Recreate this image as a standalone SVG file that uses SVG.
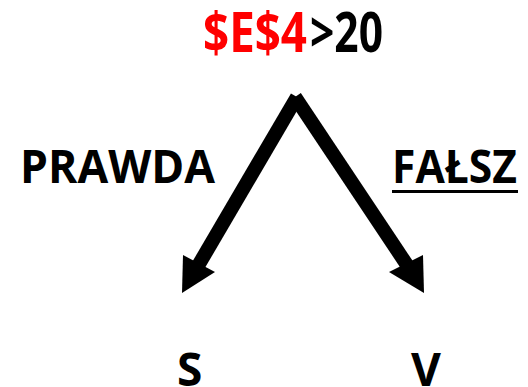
<svg xmlns="http://www.w3.org/2000/svg" width="528" height="387" viewBox="0 0 528 387">
<style>
text{font-family:"Open Sans","Liberation Sans",sans-serif;font-weight:bold;fill:#000}
.shaft{stroke:#000;stroke-width:14;fill:none;stroke-linecap:butt}
</style>
<rect width="528" height="387" fill="#fff"/>
<g id="condition"><text x="203" y="52" font-size="55" textLength="104" lengthAdjust="spacingAndGlyphs" style="fill:#ff0000">$E$4</text><text x="310" y="52" font-size="55" textLength="73" lengthAdjust="spacingAndGlyphs">&gt;20</text></g>
<g id="prawda"><text x="20" y="183" font-size="46" textLength="195" lengthAdjust="spacingAndGlyphs">PRAWDA</text></g>
<g id="falsz"><text x="392" y="183" font-size="46" textLength="125" lengthAdjust="spacingAndGlyphs">FAŁSZ</text><rect x="392" y="190" width="126" height="3"/></g>
<g id="s"><text x="177" y="386" font-size="46">S</text></g>
<g id="v"><text x="411" y="386" font-size="46">V</text></g>
<g id="connectors">
<line class="shaft" x1="297" y1="97" x2="195" y2="271"/>
<polygon points="182,293 183,255 215,272"/>
<line class="shaft" x1="295" y1="97" x2="411" y2="271"/>
<polygon points="424,293 423,255 389,272"/>
</g>
</svg>
